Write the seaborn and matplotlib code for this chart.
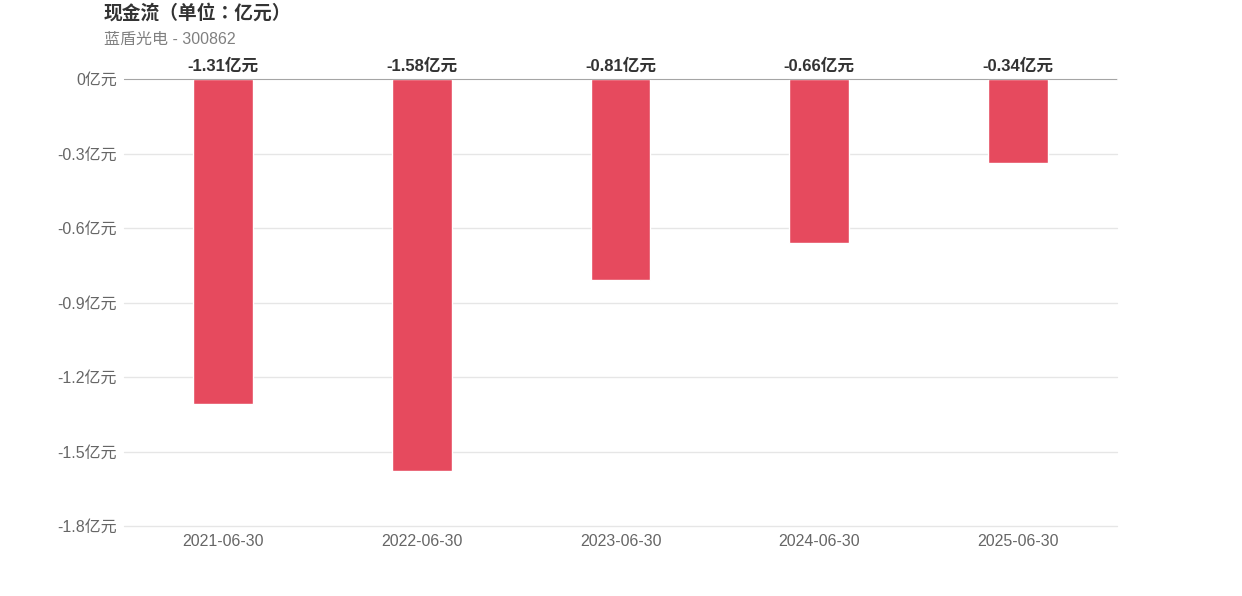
import pandas as pd
import seaborn as sns
import matplotlib.pyplot as plt

# 数据
dates = ['2021-06-30', '2022-06-30', '2023-06-30', '2024-06-30', '2025-06-30']
cash_flow = [-1.31, -1.58, -0.81, -0.66, -0.34]
y_ticks = [0, -0.3, -0.6, -0.9, -1.2, -1.5, -1.8]
y_tick_labels = ['0亿元', '-0.3亿元', '-0.6亿元', '-0.9亿元', '-1.2亿元', '-1.5亿元', '-1.8亿元']

df = pd.DataFrame({'date': dates, 'value': cash_flow})

sns.set_style('white')
plt.rcParams['font.family'] = ['Liberation Sans', 'Noto Sans CJK SC', 'DejaVu Sans']

fig = plt.figure(figsize=(12.42, 5.96), dpi=100)
ax = fig.add_axes([0.0998, 0.1174, 0.7996, 0.75])

sns.barplot(data=df, x='date', y='value', color='#e64a5e', width=0.3,
            saturation=1, ax=ax, zorder=3)

ax.set_xlim(-0.5, 4.5)
ax.set_ylim(-1.8, 0)
ax.set_yticks(y_ticks)
ax.set_yticklabels(y_tick_labels)
ax.set_xlabel('')
ax.set_ylabel('')

# 网格线
ax.grid(axis='y', color='#e6e6e6', linewidth=1, zorder=0)
for gl in ax.get_ygridlines():
    gl.set_clip_on(False)
ax.axhline(0, color='#999999', linewidth=1.2, zorder=4)
for s in ax.spines.values():
    s.set_visible(False)
ax.tick_params(axis='both', length=0, labelsize=11.5, colors='#666666')
ax.tick_params(axis='y', pad=5)
ax.tick_params(axis='x', pad=6)

# 数值标签
for i, v in enumerate(cash_flow):
    ax.annotate(f'{v:.2f}亿元', (i, 0), xytext=(0, 4), textcoords='offset points',
                ha='center', va='bottom', fontsize=12, fontweight='bold', color='#333333')

fig.text(104 / 1242, 1 - 13 / 596, '现金流（单位：亿元）', fontsize=13.5, fontweight='bold',
         color='#333333', ha='left', va='center',
         family=['Noto Sans CJK TC', 'DejaVu Sans'])
fig.text(104 / 1242, 1 - 39 / 596, '蓝盾光电 - 300862', fontsize=11.5,
         color='#808080', ha='left', va='center')

fig.savefig('out.png', dpi=100)
